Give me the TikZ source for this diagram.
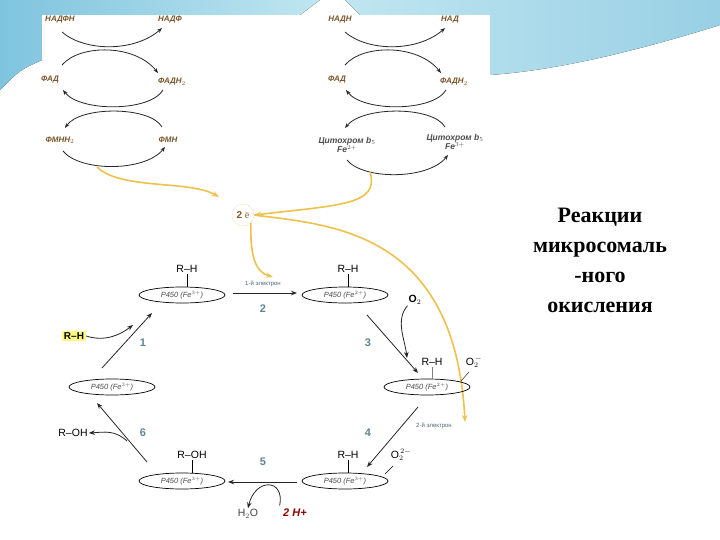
\documentclass[tikz,border=0pt]{standalone}
\usepackage{fontspec}
\setmainfont{Liberation Serif}
\setsansfont{Liberation Sans}
\usetikzlibrary{shapes.geometric,arrows.meta}
\definecolor{lab}{HTML}{7A5428}
\definecolor{num}{HTML}{5F8590}
\definecolor{yel}{HTML}{EEC24A}
\definecolor{swA}{HTML}{7FC4DE}
\definecolor{swB}{HTML}{BFE6F0}
\tikzset{
  lbl/.style={font=\sffamily\bfseries\itshape\fontsize{8}{9}\selectfont, text=lab, inner sep=1pt},
  arc/.style={draw=black!85, line width=0.8pt, -{Stealth[length=5pt]}},
  yarr/.style={draw=yel, line width=1.6pt, -{Stealth[length=7pt]}},
  enz/.style={ellipse, draw, line width=0.7pt, minimum width=86pt, minimum height=16pt, inner sep=0pt,
     font=\sffamily\itshape\fontsize{7.5}{8}\selectfont, text=black!70},
  sub/.style={font=\sffamily\fontsize{10.5}{11}\selectfont, inner sep=1pt},
  numb/.style={font=\sffamily\bfseries\fontsize{11}{12}\selectfont, text=num},
  small/.style={font=\sffamily\fontsize{6}{7}\selectfont, text=num!80!black},
  cyc/.style={draw=black!85, line width=0.8pt, -{Stealth[length=6pt]}}
}
\begin{document}
\begin{tikzpicture}[x=1pt,y=-1pt]
\useasboundingbox (0,0) rectangle (720,540);
% background swooshes
\fill[left color=swA, right color=swB] (0,0) -- (320,0) -- (300,15) -- (42,15) -- (42,60) .. controls (20,70) .. (0,90) -- cycle;
\fill[left color=swB, right color=swA!80] (345,0) -- (720,0) -- (720,25) .. controls (640,50) and (560,70) .. (490,75) -- (490,15) -- (360,15) -- cycle;
\fill[white] (42,15) rectangle (490,525);

% left top cycle
\node[lbl] (nadph) at (60,20) {НАДФН};
\node[lbl] (nadp) at (170,20) {НАДФ};
\node[lbl] (fad1) at (50,80) {ФАД};
\node[lbl] (fadh1) at (172,82) {ФАДН$_2$};
\node[lbl] (fmnh) at (60,140) {ФМНН$_2$};
\node[lbl] (fmn) at (168,140) {ФМН};
\draw[arc] (62,32) .. controls (85,52) and (135,52) .. (162,28);
\draw[arc] (62,65) .. controls (80,44) and (135,44) .. (158,73);
\draw[arc] (163,90) .. controls (150,112) and (80,112) .. (63,90);
\draw[arc] (162,127) .. controls (150,106) and (80,106) .. (65,128);
\draw[arc] (63,151) .. controls (80,172) and (145,172) .. (165,147);

% right top cycle
\node[lbl] (nadh) at (340,20) {НАДН};
\node[lbl] (nad) at (450,20) {НАД};
\node[lbl] (fad2) at (337,80) {ФАД};
\node[lbl] (fadh2) at (454,82) {ФАДН$_2$};
\node[lbl, align=center, font=\sffamily\bfseries\itshape\fontsize{8.5}{9}\selectfont, text=black!70] (cb2) at (347,145) {Цитохром b$_5$\\Fe$^{2+}$};
\node[lbl, align=center, font=\sffamily\bfseries\itshape\fontsize{8.5}{9}\selectfont, text=black!70] (cb3) at (455,142) {Цитохром b$_5$\\Fe$^{3+}$};
\draw[arc] (345,32) .. controls (368,52) and (418,52) .. (445,28);
\draw[arc] (345,65) .. controls (363,44) and (418,44) .. (441,73);
\draw[arc] (446,90) .. controls (433,112) and (363,112) .. (346,90);
\draw[arc] (445,127) .. controls (433,106) and (363,106) .. (345,128);
\draw[arc] (347,160) .. controls (363,180) and (428,180) .. (448,155);

% 2e
\node[circle, draw=yel!70!brown, densely dotted, minimum size=22pt, inner sep=0pt,
  font=\sffamily\bfseries\fontsize{10}{11}\selectfont, text=brown!70!black] (e) at (243,215) {2 $\bar{\mathrm{e}}$};
\draw[yarr] (97,167) .. controls (120,190) and (190,180) .. (219,197);
\draw[yarr] (370,172) .. controls (380,205) and (340,205) .. (e.east);
\draw[yarr] (e.south east) .. controls (250,255) and (255,272) .. (273,277);
\draw[yarr] (e.east) .. controls (330,225) and (455,230) .. (465,422);

% enzymes
\node[enz] (E1) at (182,295) {P450 (Fe$^{3+}$)};
\node[enz] (E2) at (345,295) {P450 (Fe$^{2+}$)};
\node[enz] (E3) at (427,387) {P450 (Fe$^{2+}$)};
\node[enz] (E4) at (345,481) {P450 (Fe$^{3+}$)};
\node[enz] (E5) at (182,481) {P450 (Fe$^{3+}$)};
\node[enz] (E6) at (112,387) {P450 (Fe$^{3+}$)};

\node[sub] (rh1) at (187,269) {R–H};
\node[sub] (rh2) at (348,269) {R–H};
\node[sub] (rh3) at (432,362) {R–H};
\node[sub] (rh4) at (348,455) {R–H};
\node[sub] (roh5) at (192,455) {R–OH};
\draw (rh1.south) -- (E1.north -| rh1.south);
\draw (rh2.south) -- (E2.north -| rh2.south);
\draw[gray] (rh3.south) -- (E3.north -| rh3.south);
\draw (rh4.south) -- (E4.north -| rh4.south);
\draw (roh5.south) -- (E5.north -| roh5.south);

\node[sub, font=\sffamily\bfseries\fontsize{10.5}{11}\selectfont] (o2) at (415,300) {O$_2$};
\node[sub] (o2m) at (474,362) {O$_2^{\,-}$};
\draw (469,372) -- (461,381);
\node[sub] (o22) at (401,455) {O$_2^{\,2-}$};
\draw (393,466) -- (385,474);

% cycle arrow end points
\coordinate (a1) at (233,293); \coordinate (b1) at (297,293);
\coordinate (a2) at (367,315); \coordinate (b2) at (418,373);
\coordinate (a3) at (418,407); \coordinate (b3) at (367,467);
\coordinate (a4) at (297,482); \coordinate (b4) at (228,482);
\coordinate (a5) at (147,462); \coordinate (b5) at (97,403);
\coordinate (a6) at (102,368); \coordinate (b6) at (152,313);
\draw[cyc] (a1) -- (b1);
\node[small] (l1) at (263,284) {1-й электрон};
\node[numb] (n2) at (263,309) {2};
\draw[cyc] (a2) -- (b2);
\draw[cyc] (o2.south west) .. controls (395,320) and (405,340) .. (407,358);
\node[numb] (n3) at (368,343) {3};
\draw[cyc] (a3) -- (b3);
\node[small] (l2) at (434,426) {2-й электрон};
\node[numb] (n4) at (368,433) {4};
\draw[cyc] (a4) -- (b4);
\node[numb] (n5) at (263,462) {5};
\node[font=\sffamily\bfseries\itshape\fontsize{11}{12}\selectfont, text=red!55!black] (hp) at (295,513) {2 H+};
\node[sub, text=black!75] (h2o) at (248,514) {H$_2$O};
\draw[cyc] (hp.north west) .. controls (285,478) and (255,478) .. (h2o.north);
\draw[cyc] (a5) -- (b5);
\node[sub] (roh6) at (73,433) {R–OH};
\draw[cyc] (127,441) .. controls (115,430) and (105,432) .. (roh6.east);
\node[numb] (n6) at (143,433) {6};
\draw[cyc] (a6) -- (b6);
\node[sub, font=\sffamily\bfseries\fontsize{10}{11}\selectfont, fill=yellow!50, inner sep=2pt] (rh0) at (74,336) {R–H};
\draw[cyc] (rh0.east) .. controls (105,342) and (120,335) .. (133,325);
\node[numb] (n1) at (143,343) {1};

% title
\node[align=center, font=\bfseries\fontsize{22}{30}\selectfont] (title) at (600,260) {Реакции\\микросомаль\\-ного\\окисления};
\end{tikzpicture}
\end{document}
